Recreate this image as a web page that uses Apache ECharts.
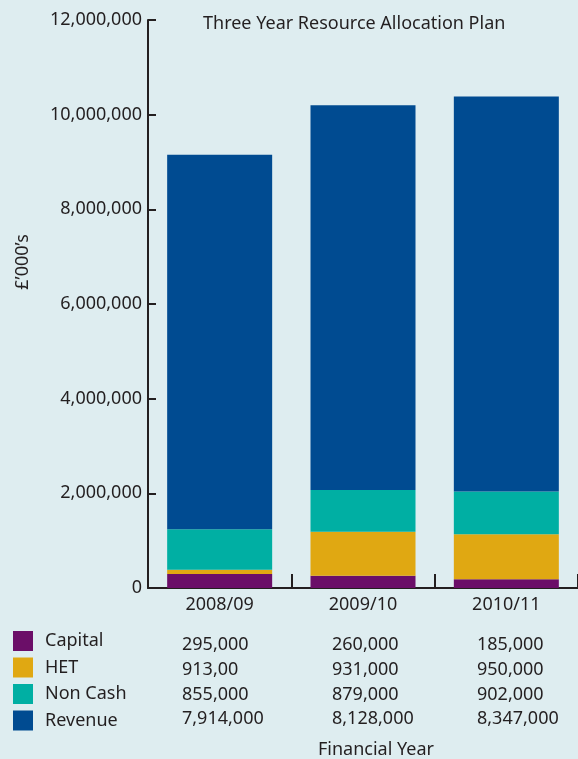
<!DOCTYPE html>
<html><head><meta charset="utf-8">
<script src="https://cdn.jsdelivr.net/npm/echarts@6/dist/echarts.min.js"></script>
<style>html,body{margin:0;padding:0;background:#deedf0;}#c{width:578px;height:759px;}</style>
</head><body><div id="c"></div>
<script>
const categories = ['2008/09', '2009/10', '2010/11'];
const capital = [295000, 260000, 185000];
const het = [91300, 931000, 950000];
const nonCash = [855000, 879000, 902000];
const revenue = [7914000, 8128000, 8347000];
const seriesNames = ['Capital', 'HET', 'Non Cash', 'Revenue'];
const colors = ['#6b0e68', '#e0a812', '#00afa3', '#004b91'];
const tableText = [
  ['295,000', '260,000', '185,000'],
  ['913,00', '931,000', '950,000'],
  ['855,000', '879,000', '902,000'],
  ['7,914,000', '8,128,000', '8,347,000']
];

const font = 'Noto Sans';
const ink = '#231f20';
const chart = echarts.init(document.getElementById('c'));
const seriesData = [capital, het, nonCash, revenue];
const colX = [182, 332, 477];
const rowY = [645, 670, 695, 719];
const graphics = [];
tableText.forEach((row, r) => {
  row.forEach((t, c) => {
    graphics.push({type: 'text', x: colX[c], y: rowY[r],
      style: {text: t, font: '18px ' + font, fill: ink, textVerticalAlign: 'middle', textAlign: 'left'}});
  });
});
graphics.push({type: 'text', x: 318, y: 750,
  style: {text: 'Financial Year', font: '18px ' + font, fill: ink, textVerticalAlign: 'middle', textAlign: 'left'}});
graphics.push({type: 'text', x: 23, y: 262, rotation: Math.PI / 2,
  style: {text: '£\u2019000\u2019s', font: '18px ' + font, fill: ink, textVerticalAlign: 'middle', textAlign: 'center'}});

chart.setOption({
  backgroundColor: '#deedf0',
  animation: false,
  title: {text: 'Three Year Resource Allocation Plan', left: 203, top: 15, padding: 0,
    textStyle: {fontFamily: font, fontSize: 18, fontWeight: 'normal', color: ink}},
  legend: {orient: 'vertical', left: 13, top: 631, itemWidth: 20, itemHeight: 20, itemGap: 6.5,
    icon: 'rect', data: seriesNames, padding: 0,
    textStyle: {fontFamily: font, fontSize: 18, color: ink, padding: [6, 0, 0, 7]}},
  grid: {left: 148, top: 20, width: 435, height: 568, containLabel: false},
  xAxis: {type: 'category', data: categories,
    axisLine: {lineStyle: {color: ink, width: 2}},
    axisTick: {show: true, inside: true, length: 14, lineStyle: {color: ink, width: 2}},
    axisLabel: {fontFamily: font, fontSize: 18, color: ink, margin: 8}},
  yAxis: {type: 'value', min: 0, max: 12000000, interval: 2000000,
    axisLine: {show: true, lineStyle: {color: ink, width: 2}},
    axisTick: {show: true, inside: true, length: 8, lineStyle: {color: ink, width: 2}},
    splitLine: {show: false},
    axisLabel: {fontFamily: font, fontSize: 18, color: ink, margin: 6,
      formatter: v => v.toLocaleString('en-GB')}},
  series: seriesNames.map((n, i) => ({
    name: n, type: 'bar', stack: 'total', barWidth: 105, data: seriesData[i],
    itemStyle: {color: colors[i]}
  })),
  graphic: graphics
});
</script></body></html>
